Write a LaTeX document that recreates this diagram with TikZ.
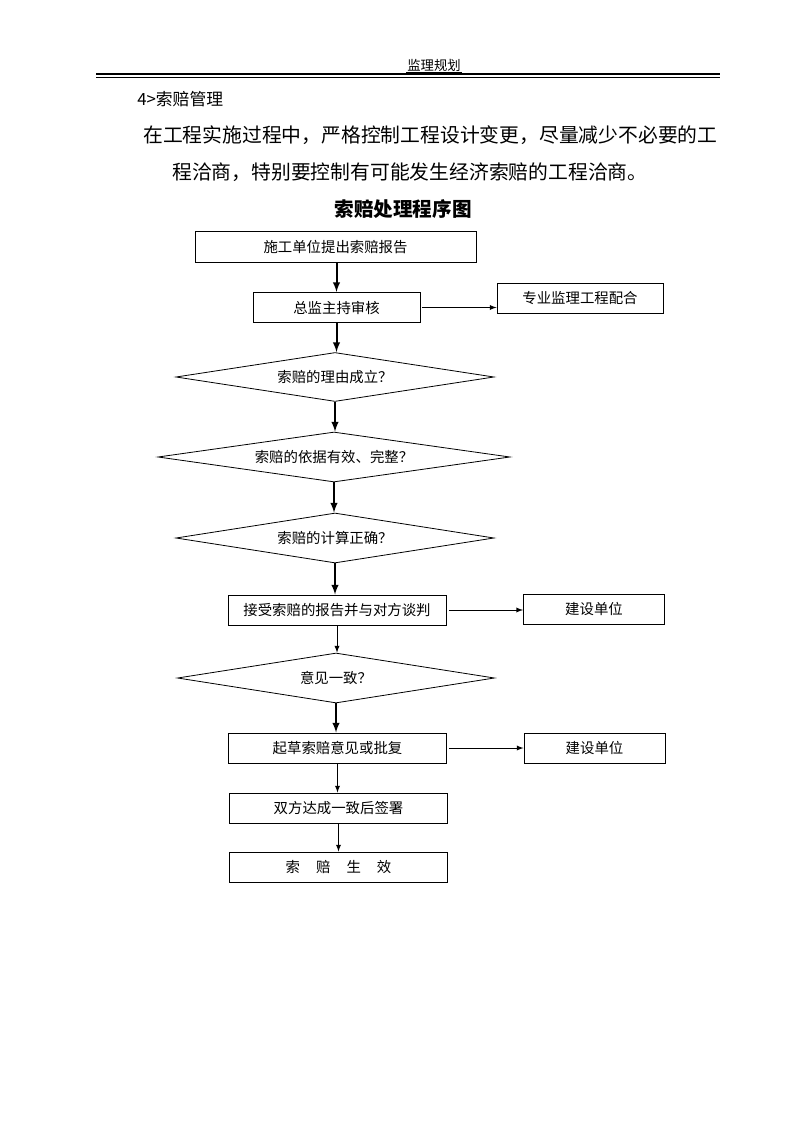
\documentclass[tikz,border=0pt]{standalone}
\usepackage{fontspec}
\newfontfamily\cjk{Noto Sans CJK SC}
\usetikzlibrary{arrows,shapes.geometric}

\begin{document}
\begin{tikzpicture}[x=0.75pt,y=-0.75pt,>=latex,
  kasten/.style={draw,line width=0.75pt,minimum width=#1,minimum height=22.5pt,inner sep=0pt,
    font=\cjk\fontsize{10.8}{13}\selectfont},
  raute/.style={draw,diamond,line width=0.6pt,inner sep=0pt,aspect=6.5,
    font=\cjk\fontsize{10.8}{13}\selectfont},
  dick/.style={->,line width=1.5pt},
  duenn/.style={->,line width=0.75pt}]
\useasboundingbox (0,0) rectangle (794,1123);

\node (kopf) at (434,65) [inner sep=0.5pt] {\cjk\fontsize{10}{12}\selectfont 监理规划};
\draw[line width=0.6pt] ([yshift=-0.5pt]kopf.south west)--([yshift=-0.5pt]kopf.south east);
\draw[line width=1pt] (96,74)--(720,74);
\draw[line width=0.5pt] (96,77)--(720,77);

\node (abschnitt) at (137,99) [anchor=west,inner sep=0pt] {\cjk\fontsize{12.6}{15}\selectfont 4>索赔管理};
\node (zeile1) at (143,135) [anchor=west,inner sep=0pt] {\cjk\fontsize{14.85}{18}\selectfont 在工程实施过程中，严格控制工程设计变更，尽量减少不必要的工};
\node (zeile2) at (172,172) [anchor=west,inner sep=0pt] {\cjk\fontsize{14.85}{18}\selectfont 程洽商，特别要控制有可能发生经济索赔的工程洽商。};
\node (titel) at (403,209) {\cjk\bfseries\fontsize{14.7}{18}\selectfont 索赔处理程序图};

\node[kasten=210.75pt] (bericht) at (335.5,247) {施工单位提出索赔报告};
\node[kasten=125.25pt] (pruefung) at (336.5,307.5) {总监主持审核};
\node[kasten=124.5pt] (fach) at (580,298.5) {专业监理工程配合};
\node[raute,minimum width=238.5pt,minimum height=36.75pt] (grund) at (335,377) {索赔的理由成立？};
\node[raute,minimum width=264pt,minimum height=37.5pt] (beleg) at (334,457) {索赔的依据有效、完整？};
\node[raute,minimum width=238.5pt,minimum height=37.5pt] (rechnung) at (335,538) {索赔的计算正确？};
\node[kasten=163.5pt] (verhandlung) at (337,610) {接受索赔的报告并与对方谈判};
\node[kasten=105.75pt] (bauherr1) at (594,609) {建设单位};
\node[raute,minimum width=237.75pt,minimum height=37.5pt] (einig) at (336,678) {意见一致？};
\node[kasten=163pt] (entwurf) at (337.5,748) {起草索赔意见或批复};
\node[kasten=105.75pt] (bauherr2) at (594.5,748) {建设单位};
\node[kasten=163pt] (unterschrift) at (338.5,808) {双方达成一致后签署};
\node[kasten=163pt] (wirksam) at (338.5,867) {索\hspace{12pt}赔\hspace{12pt}生\hspace{12pt}效};

\draw[dick] (bericht.south-|pruefung.north)--(pruefung.north);
\draw[dick] (pruefung.south)--(pruefung.south|-grund.north);
\draw[dick] (grund.south)--(grund.south|-beleg.north);
\draw[dick] (beleg.south)--(beleg.south|-rechnung.north);
\draw[dick] (rechnung.south)--(rechnung.south|-verhandlung.north);
\draw[duenn] (verhandlung.south)--(verhandlung.south|-einig.north);
\draw[dick] (einig.south)--(einig.south|-entwurf.north);
\draw[duenn] (entwurf.south)--(entwurf.south|-unterschrift.north);
\draw[duenn] (unterschrift.south)--(wirksam.north);

\draw[duenn,shorten <=1pt] (pruefung.east)--(pruefung.east-|fach.west);
\draw[duenn,shorten <=2pt] (verhandlung.east)--(verhandlung.east-|bauherr1.west);
\draw[duenn,shorten <=2pt] (entwurf.east)--(entwurf.east-|bauherr2.west);

\end{tikzpicture}
\end{document}
